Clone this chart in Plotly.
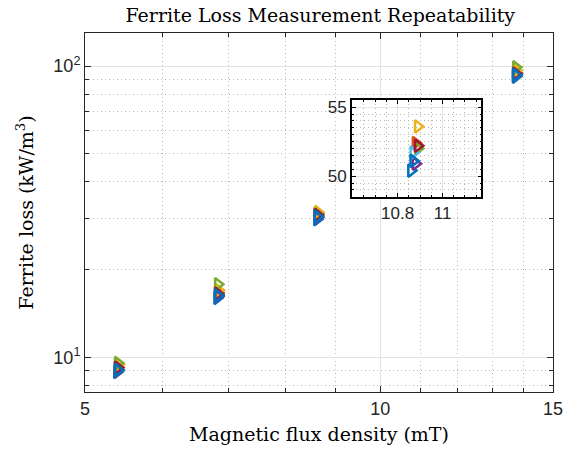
import plotly.graph_objects as go

# ---- data ----
series_colors = ["#0072BD", "#D95319", "#EDB120", "#7E2F8E", "#77AC30", "#4DBEEE", "#A2142F", "#0072BD"]
x_s1 = [5.39, 6.82, 8.62, 10.86, 13.74]
x_s2 = [5.40, 6.83, 8.63, 10.88, 13.75]
x_s3 = [5.41, 6.84, 8.64, 10.89, 13.76]
x_s4 = [5.40, 6.83, 8.63, 10.88, 13.75]
x_s5 = [5.40, 6.83, 8.63, 10.89, 13.75]
x_s6 = [5.40, 6.83, 8.63, 10.87, 13.75]
x_s7 = [5.40, 6.83, 8.63, 10.89, 13.75]
x_s8 = [5.40, 6.83, 8.63, 10.87, 13.75]
y_s1 = [8.9, 16.0, 29.8, 50.4, 92.0]
y_s2 = [9.25, 16.7, 31.2, 52.4, 95.0]
y_s3 = [9.45, 17.0, 31.5, 53.6, 96.5]
y_s4 = [9.0, 16.2, 30.2, 50.9, 93.0]
y_s5 = [9.55, 17.8, 30.9, 52.0, 99.0]
y_s6 = [9.1, 16.4, 30.5, 51.7, 93.5]
y_s7 = [9.2, 16.5, 30.8, 52.2, 94.0]
y_s8 = [9.05, 16.3, 30.4, 51.1, 93.2]
xs = [x_s1, x_s2, x_s3, x_s4, x_s5, x_s6, x_s7, x_s8]
ys = [y_s1, y_s2, y_s3, y_s4, y_s5, y_s6, y_s7, y_s8]

x_major = [5, 10, 15]
x_major_text = ["5", "10", "15"]
x_minor = [6, 7, 8, 9, 11, 12, 13, 14]
y_major = [10, 100]
y_major_text = ["10<sup>1</sup>", "10<sup>2</sup>"]
y_minor = [8, 9, 20, 30, 40, 50, 60, 70, 80, 90]
inset_x_ticks = [10.8, 11]
inset_x_text = ["10.8", "11"]
inset_y_ticks = [50, 55]
inset_y_text = ["50", "55"]

title_text = "Ferrite Loss Measurement Repeatability"
xlabel = "Magnetic flux density (mT)"
ylabel = "Ferrite loss (kW/m<sup>3</sup>)"

# ---- figure ----
fig = go.Figure()
for i in range(len(xs)):
    for ax in [("x", "y"), ("x2", "y2")]:
        fig.add_trace(go.Scatter(
            x=xs[i], y=ys[i], mode="markers", xaxis=ax[0], yaxis=ax[1],
            marker=dict(symbol="triangle-right-open", size=11, color=series_colors[i],
                        line=dict(width=2.5, color=series_colors[i])),
            showlegend=False, hoverinfo="skip"))

serif = "DejaVu Serif"
sans = "Liberation Sans"
axcol = "#262626"
major_grid = "#e3e3e3"
minor_grid = "#b8b8b8"
dotdash = "1px,3px"

fig.update_layout(
    width=575, height=455,
    margin=dict(l=85, r=20, t=33, b=63),
    paper_bgcolor="white", plot_bgcolor="white",
    title=dict(text=title_text, x=0.557, xanchor="center", y=0.966, yanchor="middle",
               font=dict(family=serif, size=19, color="black")),
    xaxis=dict(
        type="log", range=[0.69897, 1.17609], domain=[0, 1],
        tickvals=x_major, ticktext=x_major_text,
        ticks="inside", ticklen=6, tickcolor=axcol, mirror="allticks",
        showline=True, linecolor=axcol, linewidth=1,
        showgrid=True, gridcolor=major_grid, gridwidth=1, zeroline=False,
        tickfont=dict(family=sans, size=18, color=axcol),
        minor=dict(tickvals=x_minor, ticks="inside", ticklen=4, tickcolor=axcol,
                   showgrid=True, gridcolor=minor_grid, griddash=dotdash, gridwidth=1),
        title=dict(text=xlabel, font=dict(family=serif, size=19, color="black"), standoff=10),
    ),
    yaxis=dict(
        type="log", range=[0.8808, 2.1133], domain=[0, 1],
        tickvals=y_major, ticktext=y_major_text,
        ticks="inside", ticklen=6, tickcolor=axcol, mirror="allticks",
        showline=True, linecolor=axcol, linewidth=1,
        showgrid=True, gridcolor=major_grid, gridwidth=1, zeroline=False,
        tickfont=dict(family=sans, size=18, color=axcol),
        minor=dict(tickvals=y_minor, ticks="inside", ticklen=4, tickcolor=axcol,
                   showgrid=True, gridcolor=minor_grid, griddash=dotdash, gridwidth=1),
        title=dict(text=ylabel, font=dict(family=serif, size=19, color="black"), standoff=14),
    ),
    xaxis2=dict(
        anchor="y2", domain=[0.570, 0.847], range=[10.596, 11.173],
        tickvals=inset_x_ticks, ticktext=inset_x_text,
        ticks="inside", ticklen=4, tickcolor="black", mirror="allticks",
        showline=True, linecolor="black", linewidth=1.5,
        showgrid=True, gridcolor=major_grid, zeroline=False,
        tickfont=dict(family=sans, size=17, color=axcol),
        minor=dict(dtick=0.05, tick0=10.6, ticks="inside", ticklen=2, tickcolor="black",
                   showgrid=True, gridcolor=minor_grid, griddash=dotdash, gridwidth=1),
    ),
    yaxis2=dict(
        anchor="x2", domain=[0.543, 0.813], range=[48.48, 55.51],
        tickvals=inset_y_ticks, ticktext=inset_y_text,
        ticks="inside", ticklen=4, tickcolor="black", mirror="allticks",
        showline=True, linecolor="black", linewidth=1.5,
        showgrid=True, gridcolor=major_grid, zeroline=False,
        tickfont=dict(family=sans, size=17, color=axcol),
        minor=dict(dtick=0.5, tick0=48.5, ticks="inside", ticklen=2, tickcolor="black",
                   showgrid=True, gridcolor=minor_grid, griddash=dotdash, gridwidth=1),
    ),
)

fig.write_html("out.html")
